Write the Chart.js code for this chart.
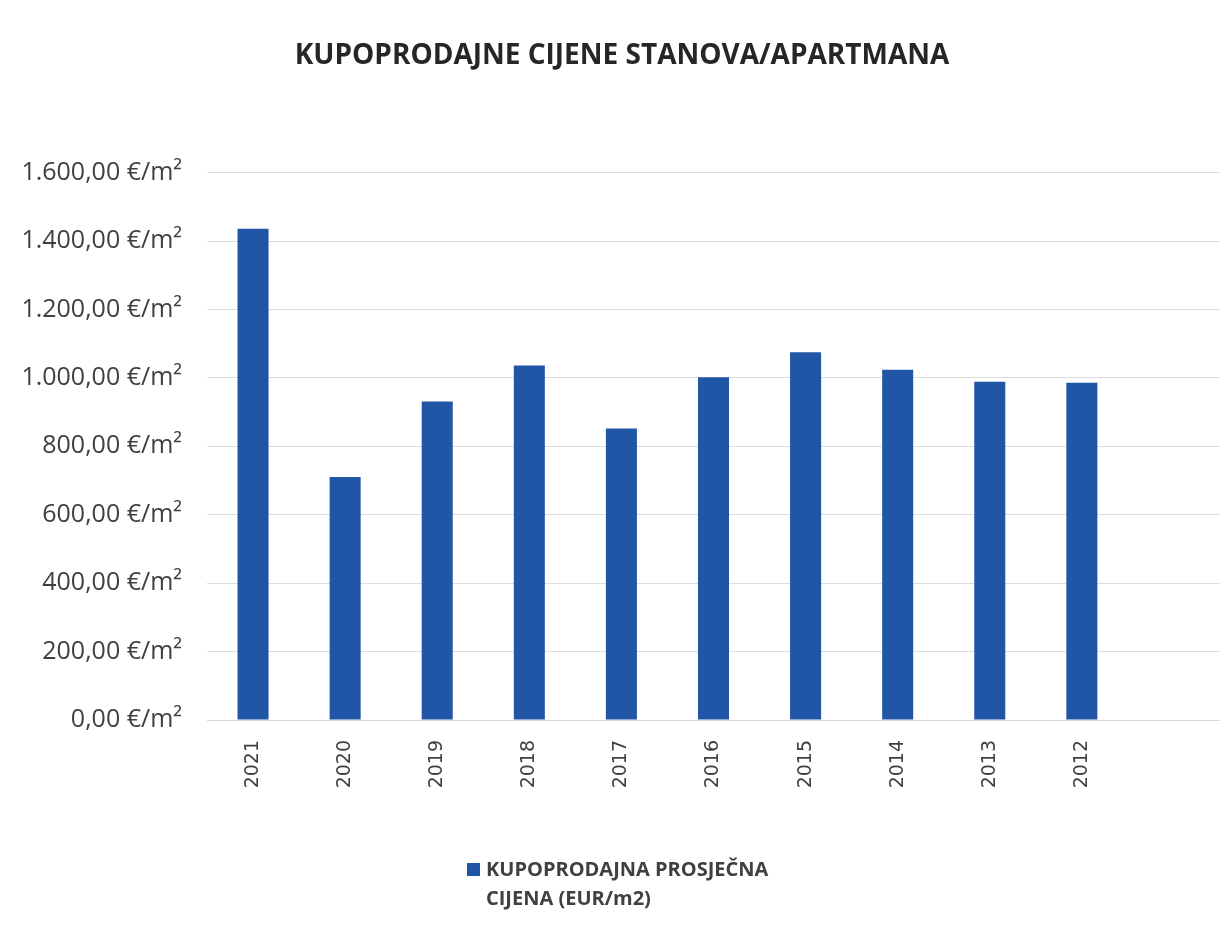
<!DOCTYPE html>
<html>
<head>
<meta charset="utf-8">
<script src="https://cdn.jsdelivr.net/npm/chart.js@4/dist/chart.umd.min.js"></script>
<style>
  html, body { margin: 0; padding: 0; background: #fff; }
  #wrap { position: relative; width: 1220px; height: 934px; }
  #legend {
    position: absolute; left: 467px; top: 854px;
    font-family: "Open Sans", sans-serif; font-weight: bold; font-size: 20px;
    color: #404040; line-height: 29px;
  }
  #legend .box {
    position: absolute; left: 0; top: 9px; width: 13px; height: 13px; background: #2155a6;
  }
  #legend .txt { margin-left: 19px; }
</style>
</head>
<body>
<div id="wrap">
  <canvas id="priceChart" width="1220" height="934"></canvas>
  <div id="legend"><span class="box"></span><div class="txt">KUPOPRODAJNA PROSJEČNA<br>CIJENA (EUR/m2)</div></div>
</div>
<script>
const years = ['2021', '2020', '2019', '2018', '2017', '2016', '2015', '2014', '2013', '2012'];
const prices = [1436, 710, 931, 1036, 852, 1002, 1075, 1024, 989, 986];
const seriesName = 'KUPOPRODAJNA PROSJEČNA CIJENA (EUR/m2)';
const chartTitle = 'KUPOPRODAJNE CIJENE STANOVA/APARTMANA';

// the sheet had one empty slot after 2012, gridlines run across it
const labels = years.concat(['']);
const values = prices.concat([null]);

function eur(v) {
  const parts = v.toFixed(2).split('.');
  const whole = parts[0].replace(/\B(?=(\d{3})+(?!\d))/g, '.');
  return whole + ',' + parts[1] + ' €/m²';
}

const ctx = document.getElementById('priceChart').getContext('2d');
const chart = new Chart(ctx, {
  type: 'bar',
  data: {
    labels: labels,
    datasets: [{
      label: seriesName,
      data: values,
      backgroundColor: '#2155a6',
      barPercentage: 1,
      categoryPercentage: 0.337
    }]
  },
  options: {
    responsive: false,
    animation: false,
    layout: { padding: { left: 24, right: 0, top: 0, bottom: 0 } },
    plugins: {
      legend: { display: false },
      tooltip: { enabled: false },
      title: {
        display: true,
        text: chartTitle,
        color: '#262626',
        font: { family: 'Open Sans', size: 28, weight: 'bold', lineHeight: 1.2 },
        padding: { top: 39, bottom: 100 }
      }
    },
    scales: {
      x: {
        grid: { display: false },
        border: { color: '#d9d9d9' },
        ticks: {
          color: '#404040',
          font: { family: 'DejaVu Sans', size: 19 },
          maxRotation: 90,
          minRotation: 90,
          padding: 12
        },
        afterFit: function (scale) { scale.height = 214; }
      },
      y: {
        min: 0,
        max: 1600,
        grid: { color: '#dcdcdc', drawTicks: false },
        border: { display: false },
        ticks: {
          stepSize: 200,
          color: '#404040',
          padding: 25,
          font: { family: 'Open Sans', size: 25 },
          callback: function (v) { return eur(v); }
        },
        afterFit: function (scale) { scale.width = 183; }
      }
    }
  }
});
</script>
</body>
</html>
